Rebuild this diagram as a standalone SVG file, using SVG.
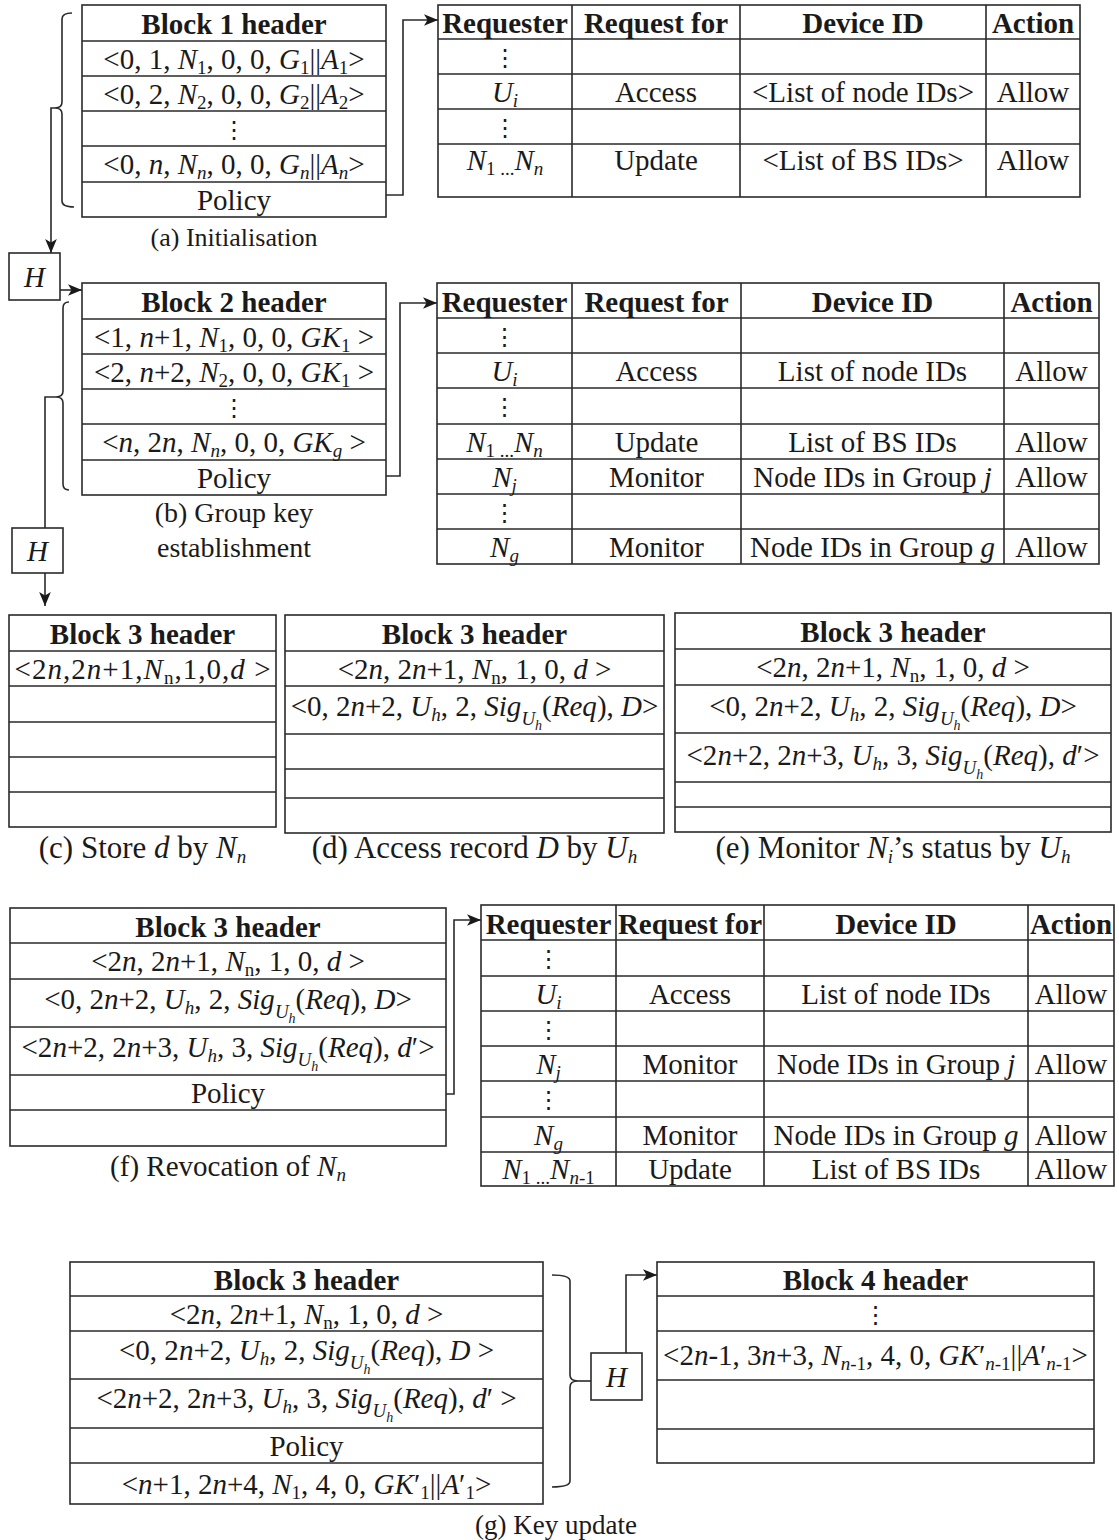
<svg xmlns="http://www.w3.org/2000/svg" width="1119" height="1540" viewBox="0 0 1119 1540">
<style>
.t{font-family:"Liberation Serif","Times New Roman",serif;font-size:29px;fill:#1a1a1a;text-anchor:middle}
.h{font-weight:bold}
.cap{font-size:28px}
.i{font-style:italic}
.s{font-size:19px}
.ss{font-size:14px}
.dot{font-family:"DejaVu Sans",sans-serif;font-size:24px;fill:#1a1a1a;text-anchor:middle}
.box{fill:#fff;stroke:#2a2a2a;stroke-width:1.6}
.ln{fill:none;stroke:#2a2a2a;stroke-width:1.6}
</style>
<defs>
<marker id="ah" viewBox="0 0 12 10" refX="12" refY="5" markerWidth="14" markerHeight="12" markerUnits="userSpaceOnUse" orient="auto">
<path d="M0,0 L12,5 L0,10 L3,5 z" fill="#1a1a1a"/>
</marker>
</defs>
<rect width="1119" height="1540" fill="#fff"/>

<g id="connectors">
<path class="ln" d="M72,13 Q62,13 62,19 V102 Q62,108 55,108 Q62,108 62,114 V201 Q62,207 74,207"/>
<path class="ln" d="M55,108 H51 V253" marker-end="url(#ah)"/>
<path class="ln" d="M60,290 H82" marker-end="url(#ah)"/>
<path class="ln" d="M386,195 H403 V20 H438" marker-end="url(#ah)"/>
<path class="ln" d="M69,302 Q63,302 63,308 V391 Q63,397 56,397 Q63,397 63,403 V484 Q63,490 69,490"/>
<path class="ln" d="M56,397 H45 V528"/>
<path class="ln" d="M45,573 V606" marker-end="url(#ah)"/>
<path class="ln" d="M386,476 H400 V303 H437" marker-end="url(#ah)"/>
<path class="ln" d="M446,1094 H454 V920 H481" marker-end="url(#ah)"/>
<path class="ln" d="M552,1275 Q570,1275 570,1281 V1375 Q570,1381 578,1381 Q570,1381 570,1387 V1481 Q570,1487 552,1487"/>
<path class="ln" d="M578,1381 H591"/>
<path class="ln" d="M626,1353 V1275 H657" marker-end="url(#ah)"/>
</g>

<g id="hash1">
<rect class="box" x="9" y="253" width="51" height="47"/>
<text class="t i" x="34.5" y="287">H</text>
</g>
<g id="hash2">
<rect class="box" x="12" y="528" width="51" height="45"/>
<text class="t i" x="37.5" y="561">H</text>
</g>
<g id="hash3">
<rect class="box" x="591" y="1353" width="51" height="47"/>
<text class="t i" x="616.5" y="1387">H</text>
</g>

<g id="block1">
<rect class="box" x="82" y="5" width="304" height="212"/>
<path class="ln" d="M82,41H386M82,76H386M82,111H386M82,146H386M82,182H386"/>
<text class="t h" x="234" y="34">Block 1 header</text>
<text class="t" x="234" y="68.5">&lt;0, 1, <tspan class="i">N</tspan><tspan class="s" dy="5">1</tspan><tspan dy="-5">, 0, 0, </tspan><tspan class="i">G</tspan><tspan class="s" dy="5">1</tspan><tspan dy="-5">||</tspan><tspan class="i">A</tspan><tspan class="s" dy="5">1</tspan><tspan dy="-5">&gt;</tspan></text>
<text class="t" x="234" y="103.5">&lt;0, 2, <tspan class="i">N</tspan><tspan class="s" dy="5">2</tspan><tspan dy="-5">, 0, 0, </tspan><tspan class="i">G</tspan><tspan class="s" dy="5">2</tspan><tspan dy="-5">||</tspan><tspan class="i">A</tspan><tspan class="s" dy="5">2</tspan><tspan dy="-5">&gt;</tspan></text>
<text class="dot" x="234" y="137.5">⋮</text>
<text class="t" x="234" y="174">&lt;0, <tspan class="i">n</tspan>, <tspan class="i">N</tspan><tspan class="s i" dy="5">n</tspan><tspan dy="-5">, 0, 0, </tspan><tspan class="i">G</tspan><tspan class="s i" dy="5">n</tspan><tspan dy="-5">||</tspan><tspan class="i">A</tspan><tspan class="s i" dy="5">n</tspan><tspan dy="-5">&gt;</tspan></text>
<text class="t" x="234" y="209.5">Policy</text>
<text class="t" style="font-size:26px" x="234" y="246">(a) Initialisation</text>
</g>

<g id="policy1">
<rect class="box" x="438" y="5" width="642" height="192"/>
<path class="ln" d="M438,39H1080M438,74H1080M438,109H1080M438,144H1080M572,5V197M740,5V197M986,5V197"/>
<text class="t h" x="505" y="33">Requester</text>
<text class="t h" x="656" y="33">Request for</text>
<text class="t h" x="863" y="33">Device ID</text>
<text class="t h" x="1033" y="33">Action</text>
<text class="dot" x="505" y="65.5">⋮</text>
<text class="t" x="505" y="101.5"><tspan class="i">U</tspan><tspan class="s i" dy="5">i</tspan></text>
<text class="t" x="656" y="101.5">Access</text>
<text class="t" x="863" y="101.5">&lt;List of node IDs&gt;</text>
<text class="t" x="1033" y="101.5">Allow</text>
<text class="dot" x="505" y="135.5">⋮</text>
<text class="t" x="505" y="170"><tspan class="i">N</tspan><tspan class="s" dy="5">1 ...</tspan><tspan class="i" dy="-5">N</tspan><tspan class="s i" dy="5">n</tspan></text>
<text class="t" x="656" y="170">Update</text>
<text class="t" x="863" y="170">&lt;List of BS IDs&gt;</text>
<text class="t" x="1033" y="170">Allow</text>
</g>

<g id="block2">
<rect class="box" x="82" y="283" width="304" height="212"/>
<path class="ln" d="M82,319H386M82,354H386M82,389H386M82,424H386M82,460H386"/>
<text class="t h" x="234" y="312">Block 2 header</text>
<text class="t" x="234" y="346.5">&lt;1, <tspan class="i">n</tspan>+1, <tspan class="i">N</tspan><tspan class="s" dy="5">1</tspan><tspan dy="-5">, 0, 0, </tspan><tspan class="i">GK</tspan><tspan class="s" dy="5">1</tspan><tspan dy="-5"> &gt;</tspan></text>
<text class="t" x="234" y="381.5">&lt;2, <tspan class="i">n</tspan>+2, <tspan class="i">N</tspan><tspan class="s" dy="5">2</tspan><tspan dy="-5">, 0, 0, </tspan><tspan class="i">GK</tspan><tspan class="s" dy="5">1</tspan><tspan dy="-5"> &gt;</tspan></text>
<text class="dot" x="234" y="415.5">⋮</text>
<text class="t" x="234" y="452">&lt;<tspan class="i">n</tspan>, 2<tspan class="i">n</tspan>, <tspan class="i">N</tspan><tspan class="s i" dy="5">n</tspan><tspan dy="-5">, 0, 0, </tspan><tspan class="i">GK</tspan><tspan class="s i" dy="5">g</tspan><tspan dy="-5"> &gt;</tspan></text>
<text class="t" x="234" y="487.5">Policy</text>
<text class="t cap" x="234" y="522">(b) Group key</text>
<text class="t cap" x="234" y="557">establishment</text>
</g>

<g id="policy2">
<rect class="box" x="437" y="283" width="662" height="281"/>
<path class="ln" d="M437,318H1099M437,353H1099M437,388H1099M437,424H1099M437,459H1099M437,494H1099M437,529H1099M572,283V564M741,283V564M1004,283V564"/>
<text class="t h" x="504.5" y="311.5">Requester</text>
<text class="t h" x="656.5" y="311.5">Request for</text>
<text class="t h" x="872.5" y="311.5">Device ID</text>
<text class="t h" x="1051.5" y="311.5">Action</text>
<text class="dot" x="504.5" y="344.5">⋮</text>
<text class="t" x="504.5" y="380.5"><tspan class="i">U</tspan><tspan class="s i" dy="5">i</tspan></text>
<text class="t" x="656.5" y="380.5">Access</text>
<text class="t" x="872.5" y="380.5">List of node IDs</text>
<text class="t" x="1051.5" y="380.5">Allow</text>
<text class="dot" x="504.5" y="415">⋮</text>
<text class="t" x="504.5" y="451.5"><tspan class="i">N</tspan><tspan class="s" dy="5">1 ...</tspan><tspan class="i" dy="-5">N</tspan><tspan class="s i" dy="5">n</tspan></text>
<text class="t" x="656.5" y="451.5">Update</text>
<text class="t" x="872.5" y="451.5">List of BS IDs</text>
<text class="t" x="1051.5" y="451.5">Allow</text>
<text class="t" x="504.5" y="486.5"><tspan class="i">N</tspan><tspan class="s i" dy="5">j</tspan></text>
<text class="t" x="656.5" y="486.5">Monitor</text>
<text class="t" x="872.5" y="486.5">Node IDs in Group <tspan class="i">j</tspan></text>
<text class="t" x="1051.5" y="486.5">Allow</text>
<text class="dot" x="504.5" y="520.5">⋮</text>
<text class="t" x="504.5" y="556.5"><tspan class="i">N</tspan><tspan class="s i" dy="5">g</tspan></text>
<text class="t" x="656.5" y="556.5">Monitor</text>
<text class="t" x="872.5" y="556.5">Node IDs in Group <tspan class="i">g</tspan></text>
<text class="t" x="1051.5" y="556.5">Allow</text>
</g>

<g id="block3c">
<rect class="box" x="9" y="615" width="267" height="212"/>
<path class="ln" d="M9,651H276M9,686H276M9,722H276M9,757H276M9,792H276"/>
<text class="t h" x="142.5" y="644">Block 3 header</text>
<text class="t" x="142.5" y="678.5" textLength="256" lengthAdjust="spacing">&lt;2<tspan class="i">n</tspan>,2<tspan class="i">n</tspan>+1,<tspan class="i">N</tspan><tspan class="s" dy="5">n</tspan><tspan dy="-5">,1,0,</tspan><tspan class="i">d</tspan> &gt;</text>
<text class="t" style="font-size:31px" x="142.5" y="858">(c) Store <tspan class="i">d</tspan> by <tspan class="i">N</tspan><tspan class="s i" dy="5">n</tspan></text>
</g>

<g id="block3d">
<rect class="box" x="285" y="615" width="379" height="218"/>
<path class="ln" d="M285,651H664M285,686H664M285,734H664M285,769H664M285,798H664"/>
<text class="t h" x="474.5" y="644">Block 3 header</text>
<text class="t" x="474.5" y="678.5">&lt;2<tspan class="i">n</tspan>, 2<tspan class="i">n</tspan>+1, <tspan class="i">N</tspan><tspan class="s" dy="5">n</tspan><tspan dy="-5">, 1, 0, </tspan><tspan class="i">d</tspan> &gt;</text>
<text class="t" x="474.5" y="716">&lt;0, 2<tspan class="i">n</tspan>+2, <tspan class="i">U</tspan><tspan class="s i" dy="5">h</tspan><tspan dy="-5">, 2, </tspan><tspan class="i">Sig</tspan><tspan class="s i" dy="9">U</tspan><tspan class="ss i" dy="5">h</tspan><tspan dy="-14">(</tspan><tspan class="i">Req</tspan>), <tspan class="i">D</tspan>&gt;</text>
<text class="t" style="font-size:31px" x="474.5" y="858">(d) Access record <tspan class="i">D</tspan> by <tspan class="i">U</tspan><tspan class="s i" dy="5">h</tspan></text>
</g>

<g id="block3e">
<rect class="box" x="675" y="613" width="436" height="219"/>
<path class="ln" d="M675,649H1111M675,685H1111M675,733H1111M675,782H1111M675,807H1111"/>
<text class="t h" x="893" y="642">Block 3 header</text>
<text class="t" x="893" y="677">&lt;2<tspan class="i">n</tspan>, 2<tspan class="i">n</tspan>+1, <tspan class="i">N</tspan><tspan class="s" dy="5">n</tspan><tspan dy="-5">, 1, 0, </tspan><tspan class="i">d</tspan> &gt;</text>
<text class="t" x="893" y="716">&lt;0, 2<tspan class="i">n</tspan>+2, <tspan class="i">U</tspan><tspan class="s i" dy="5">h</tspan><tspan dy="-5">, 2, </tspan><tspan class="i">Sig</tspan><tspan class="s i" dy="9">U</tspan><tspan class="ss i" dy="5">h</tspan><tspan dy="-14">(</tspan><tspan class="i">Req</tspan>), <tspan class="i">D</tspan>&gt;</text>
<text class="t" x="893" y="765">&lt;2<tspan class="i">n</tspan>+2, 2<tspan class="i">n</tspan>+3, <tspan class="i">U</tspan><tspan class="s i" dy="5">h</tspan><tspan dy="-5">, 3, </tspan><tspan class="i">Sig</tspan><tspan class="s i" dy="9">U</tspan><tspan class="ss i" dy="5">h</tspan><tspan dy="-14">(</tspan><tspan class="i">Req</tspan>), <tspan class="i">d</tspan>′&gt;</text>
<text class="t" style="font-size:31px" x="893" y="858">(e) Monitor <tspan class="i">N</tspan><tspan class="s i" dy="5">i</tspan><tspan dy="-5">’s status by </tspan><tspan class="i">U</tspan><tspan class="s i" dy="5">h</tspan></text>
</g>

<g id="block3f">
<rect class="box" x="10" y="908" width="436" height="238"/>
<path class="ln" d="M10,943H446M10,979H446M10,1027H446M10,1075H446M10,1110H446"/>
<text class="t h" x="228" y="936.5">Block 3 header</text>
<text class="t" x="228" y="971">&lt;2<tspan class="i">n</tspan>, 2<tspan class="i">n</tspan>+1, <tspan class="i">N</tspan><tspan class="s" dy="5">n</tspan><tspan dy="-5">, 1, 0, </tspan><tspan class="i">d</tspan> &gt;</text>
<text class="t" x="228" y="1009">&lt;0, 2<tspan class="i">n</tspan>+2, <tspan class="i">U</tspan><tspan class="s i" dy="5">h</tspan><tspan dy="-5">, 2, </tspan><tspan class="i">Sig</tspan><tspan class="s i" dy="9">U</tspan><tspan class="ss i" dy="5">h</tspan><tspan dy="-14">(</tspan><tspan class="i">Req</tspan>), <tspan class="i">D</tspan>&gt;</text>
<text class="t" x="228" y="1057">&lt;2<tspan class="i">n</tspan>+2, 2<tspan class="i">n</tspan>+3, <tspan class="i">U</tspan><tspan class="s i" dy="5">h</tspan><tspan dy="-5">, 3, </tspan><tspan class="i">Sig</tspan><tspan class="s i" dy="9">U</tspan><tspan class="ss i" dy="5">h</tspan><tspan dy="-14">(</tspan><tspan class="i">Req</tspan>), <tspan class="i">d</tspan>′&gt;</text>
<text class="t" x="228" y="1102.5">Policy</text>
<text class="t" x="228" y="1176">(f) Revocation of <tspan class="i">N</tspan><tspan class="s i" dy="5">n</tspan></text>
</g>

<g id="policy3">
<rect class="box" x="481" y="905" width="633" height="281"/>
<path class="ln" d="M481,940H1114M481,976H1114M481,1011H1114M481,1046H1114M481,1081H1114M481,1117H1114M481,1152H1114M616,905V1186M764,905V1186M1028,905V1186"/>
<text class="t h" x="548.5" y="933.5">Requester</text>
<text class="t h" x="690" y="933.5">Request for</text>
<text class="t h" x="896" y="933.5">Device ID</text>
<text class="t h" x="1071" y="933.5">Action</text>
<text class="dot" x="548.5" y="967">⋮</text>
<text class="t" x="548.5" y="1003.5"><tspan class="i">U</tspan><tspan class="s i" dy="5">i</tspan></text>
<text class="t" x="690" y="1003.5">Access</text>
<text class="t" x="896" y="1003.5">List of node IDs</text>
<text class="t" x="1071" y="1003.5">Allow</text>
<text class="dot" x="548.5" y="1037.5">⋮</text>
<text class="t" x="548.5" y="1073.5"><tspan class="i">N</tspan><tspan class="s i" dy="5">j</tspan></text>
<text class="t" x="690" y="1073.5">Monitor</text>
<text class="t" x="896" y="1073.5">Node IDs in Group <tspan class="i">j</tspan></text>
<text class="t" x="1071" y="1073.5">Allow</text>
<text class="dot" x="548.5" y="1108">⋮</text>
<text class="t" x="548.5" y="1144.5"><tspan class="i">N</tspan><tspan class="s i" dy="5">g</tspan></text>
<text class="t" x="690" y="1144.5">Monitor</text>
<text class="t" x="896" y="1144.5">Node IDs in Group <tspan class="i">g</tspan></text>
<text class="t" x="1071" y="1144.5">Allow</text>
<text class="t" x="548.5" y="1179"><tspan class="i">N</tspan><tspan class="s" dy="5">1 ...</tspan><tspan class="i" dy="-5">N</tspan><tspan class="s" dy="5"><tspan class="i">n</tspan>-1</tspan></text>
<text class="t" x="690" y="1179">Update</text>
<text class="t" x="896" y="1179">List of BS IDs</text>
<text class="t" x="1071" y="1179">Allow</text>
</g>

<g id="block3g">
<rect class="box" x="70" y="1262" width="473" height="242"/>
<path class="ln" d="M70,1296H543M70,1331H543M70,1379H543M70,1428H543M70,1463H543"/>
<text class="t h" x="306.5" y="1290">Block 3 header</text>
<text class="t" x="306.5" y="1323.5">&lt;2<tspan class="i">n</tspan>, 2<tspan class="i">n</tspan>+1, <tspan class="i">N</tspan><tspan class="s" dy="5">n</tspan><tspan dy="-5">, 1, 0, </tspan><tspan class="i">d</tspan> &gt;</text>
<text class="t" x="306.5" y="1360">&lt;0, 2<tspan class="i">n</tspan>+2, <tspan class="i">U</tspan><tspan class="s i" dy="5">h</tspan><tspan dy="-5">, 2, </tspan><tspan class="i">Sig</tspan><tspan class="s i" dy="9">U</tspan><tspan class="ss i" dy="5">h</tspan><tspan dy="-14">(</tspan><tspan class="i">Req</tspan>), <tspan class="i">D</tspan> &gt;</text>
<text class="t" x="306.5" y="1408">&lt;2<tspan class="i">n</tspan>+2, 2<tspan class="i">n</tspan>+3, <tspan class="i">U</tspan><tspan class="s i" dy="5">h</tspan><tspan dy="-5">, 3, </tspan><tspan class="i">Sig</tspan><tspan class="s i" dy="9">U</tspan><tspan class="ss i" dy="5">h</tspan><tspan dy="-14">(</tspan><tspan class="i">Req</tspan>), <tspan class="i">d</tspan>′ &gt;</text>
<text class="t" x="306.5" y="1455.5">Policy</text>
<text class="t" x="306.5" y="1493.5">&lt;<tspan class="i">n</tspan>+1, 2<tspan class="i">n</tspan>+4, <tspan class="i">N</tspan><tspan class="s" dy="5">1</tspan><tspan dy="-5">, 4, 0, </tspan><tspan class="i">GK</tspan>′<tspan class="s" dy="5">1</tspan><tspan dy="-5">||</tspan><tspan class="i">A</tspan>′<tspan class="s" dy="5">1</tspan><tspan dy="-5">&gt;</tspan></text>
</g>

<g id="block4">
<rect class="box" x="657" y="1262" width="437" height="201"/>
<path class="ln" d="M657,1296H1094M657,1331H1094M657,1380H1094M657,1429H1094"/>
<text class="t h" x="875.5" y="1290">Block 4 header</text>
<text class="dot" x="875.5" y="1322.5">⋮</text>
<text class="t" x="875.5" y="1365">&lt;2<tspan class="i">n</tspan>-1, 3<tspan class="i">n</tspan>+3, <tspan class="i">N</tspan><tspan class="s" dy="5"><tspan class="i">n</tspan>-1</tspan><tspan dy="-5">, 4, 0, </tspan><tspan class="i">GK</tspan>′<tspan class="s" dy="5"><tspan class="i">n</tspan>-1</tspan><tspan dy="-5">||</tspan><tspan class="i">A</tspan>′<tspan class="s" dy="5"><tspan class="i">n</tspan>-1</tspan><tspan dy="-5">&gt;</tspan></text>
</g>

<g id="caption-g">
<text class="t" style="font-size:27px" x="556" y="1534">(g) Key update</text>
</g>
</svg>
